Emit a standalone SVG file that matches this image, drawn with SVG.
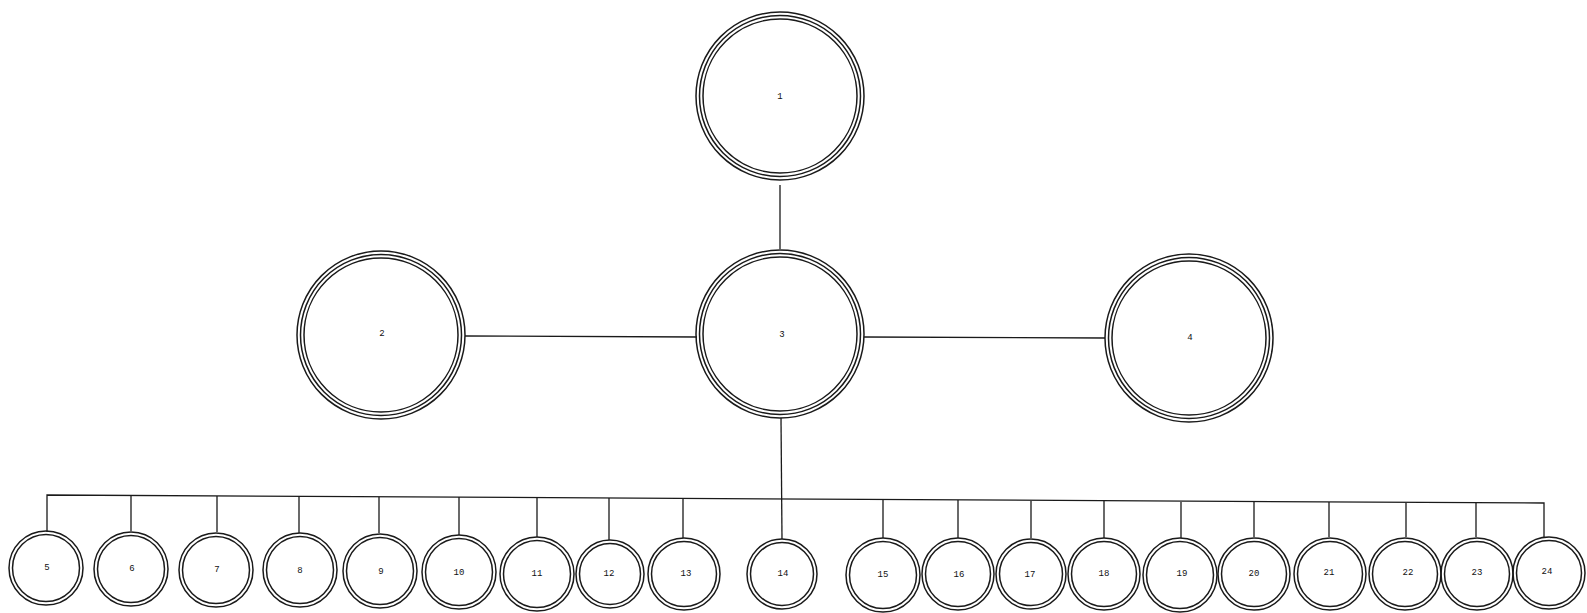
<svg xmlns="http://www.w3.org/2000/svg" width="1587" height="613" viewBox="0 0 1587 613">
<style>
.o{fill:none;stroke:#1a1a1a;stroke-width:1.5}
.c{fill:none;stroke:#1a1a1a;stroke-width:1.3}
.t{font-family:"Liberation Mono",monospace;font-size:9px;fill:#111;text-anchor:middle;dominant-baseline:central}
</style>
<rect width="1587" height="613" fill="#fff"/>
<g id="connectors" class="c">
<line x1="780" y1="185" x2="780" y2="249"/>
<line x1="465" y1="336" x2="697" y2="337"/>
<line x1="864" y1="337" x2="1105" y2="338"/>
<line x1="781" y1="418" x2="782" y2="539"/>
<polyline points="47,532 47,495 1544,503 1544,537"/>
<line x1="131" y1="495" x2="131" y2="531"/>
<line x1="217" y1="496" x2="217" y2="532"/>
<line x1="299" y1="496" x2="299" y2="533"/>
<line x1="379" y1="497" x2="379" y2="533"/>
<line x1="459" y1="497" x2="459" y2="535"/>
<line x1="537" y1="498" x2="537" y2="537"/>
<line x1="609" y1="498" x2="609" y2="540"/>
<line x1="683" y1="499" x2="683" y2="538"/>
<line x1="883" y1="500" x2="883" y2="538"/>
<line x1="958" y1="500" x2="958" y2="538"/>
<line x1="1031" y1="501" x2="1031" y2="538"/>
<line x1="1104" y1="501" x2="1104" y2="538"/>
<line x1="1181" y1="502" x2="1181" y2="538"/>
<line x1="1254" y1="502" x2="1254" y2="537"/>
<line x1="1329" y1="502" x2="1329" y2="537"/>
<line x1="1406" y1="503" x2="1406" y2="537"/>
<line x1="1476" y1="503" x2="1476" y2="537"/>
</g>
<g id="n1"><circle class="o" cx="780" cy="96" r="84"/><circle class="o" cx="780" cy="96" r="80.5"/><circle class="o" cx="780" cy="96" r="77"/><text class="t" x="780" y="97">1</text></g>
<g id="n2"><circle class="o" cx="381" cy="335" r="84"/><circle class="o" cx="381" cy="335" r="80.5"/><circle class="o" cx="381" cy="335" r="77"/><text class="t" x="382" y="334">2</text></g>
<g id="n3"><circle class="o" cx="780" cy="334" r="84"/><circle class="o" cx="780" cy="334" r="80.5"/><circle class="o" cx="780" cy="334" r="77"/><text class="t" x="782" y="335">3</text></g>
<g id="n4"><circle class="o" cx="1189" cy="338" r="84"/><circle class="o" cx="1189" cy="338" r="80.5"/><circle class="o" cx="1189" cy="338" r="77"/><text class="t" x="1190" y="338">4</text></g>
<g id="n5"><circle class="o" cx="46" cy="568" r="37"/><circle class="o" cx="46" cy="568" r="33.5"/><text class="t" x="47" y="568">5</text></g>
<g id="n6"><circle class="o" cx="131" cy="569" r="37"/><circle class="o" cx="131" cy="569" r="33.5"/><text class="t" x="132" y="569">6</text></g>
<g id="n7"><circle class="o" cx="216" cy="570" r="37"/><circle class="o" cx="216" cy="570" r="33.5"/><text class="t" x="217" y="570">7</text></g>
<g id="n8"><circle class="o" cx="300" cy="570" r="37"/><circle class="o" cx="300" cy="570" r="33.5"/><text class="t" x="300" y="571">8</text></g>
<g id="n9"><circle class="o" cx="380" cy="571" r="37"/><circle class="o" cx="380" cy="571" r="33.5"/><text class="t" x="381" y="572">9</text></g>
<g id="n10"><circle class="o" cx="459" cy="572" r="37"/><circle class="o" cx="459" cy="572" r="33.5"/><text class="t" x="459" y="573">10</text></g>
<g id="n11"><circle class="o" cx="537" cy="574" r="37"/><circle class="o" cx="537" cy="574" r="33.5"/><text class="t" x="537" y="574">11</text></g>
<g id="n12"><circle class="o" cx="610" cy="574" r="34"/><circle class="o" cx="610" cy="574" r="30.5"/><text class="t" x="609" y="574">12</text></g>
<g id="n13"><circle class="o" cx="684" cy="574" r="36"/><circle class="o" cx="684" cy="574" r="32.5"/><text class="t" x="686" y="574">13</text></g>
<g id="n14"><circle class="o" cx="782" cy="574" r="35"/><circle class="o" cx="782" cy="574" r="31.5"/><text class="t" x="783" y="574">14</text></g>
<g id="n15"><circle class="o" cx="883" cy="575" r="37"/><circle class="o" cx="883" cy="575" r="33.5"/><text class="t" x="883" y="575">15</text></g>
<g id="n16"><circle class="o" cx="958" cy="574" r="36"/><circle class="o" cx="958" cy="574" r="32.5"/><text class="t" x="959" y="575">16</text></g>
<g id="n17"><circle class="o" cx="1031" cy="574" r="35"/><circle class="o" cx="1031" cy="574" r="31.5"/><text class="t" x="1030" y="575">17</text></g>
<g id="n18"><circle class="o" cx="1104" cy="574" r="36"/><circle class="o" cx="1104" cy="574" r="32.5"/><text class="t" x="1104" y="574">18</text></g>
<g id="n19"><circle class="o" cx="1180" cy="575" r="37"/><circle class="o" cx="1180" cy="575" r="33.5"/><text class="t" x="1182" y="574">19</text></g>
<g id="n20"><circle class="o" cx="1254" cy="574" r="36"/><circle class="o" cx="1254" cy="574" r="32.5"/><text class="t" x="1254" y="574">20</text></g>
<g id="n21"><circle class="o" cx="1330" cy="574" r="36"/><circle class="o" cx="1330" cy="574" r="32.5"/><text class="t" x="1329" y="573">21</text></g>
<g id="n22"><circle class="o" cx="1405" cy="574" r="36"/><circle class="o" cx="1405" cy="574" r="32.5"/><text class="t" x="1408" y="573">22</text></g>
<g id="n23"><circle class="o" cx="1477" cy="574" r="36"/><circle class="o" cx="1477" cy="574" r="32.5"/><text class="t" x="1477" y="573">23</text></g>
<g id="n24"><circle class="o" cx="1549" cy="573" r="36"/><circle class="o" cx="1549" cy="573" r="32.5"/><text class="t" x="1547" y="572">24</text></g>
</svg>
